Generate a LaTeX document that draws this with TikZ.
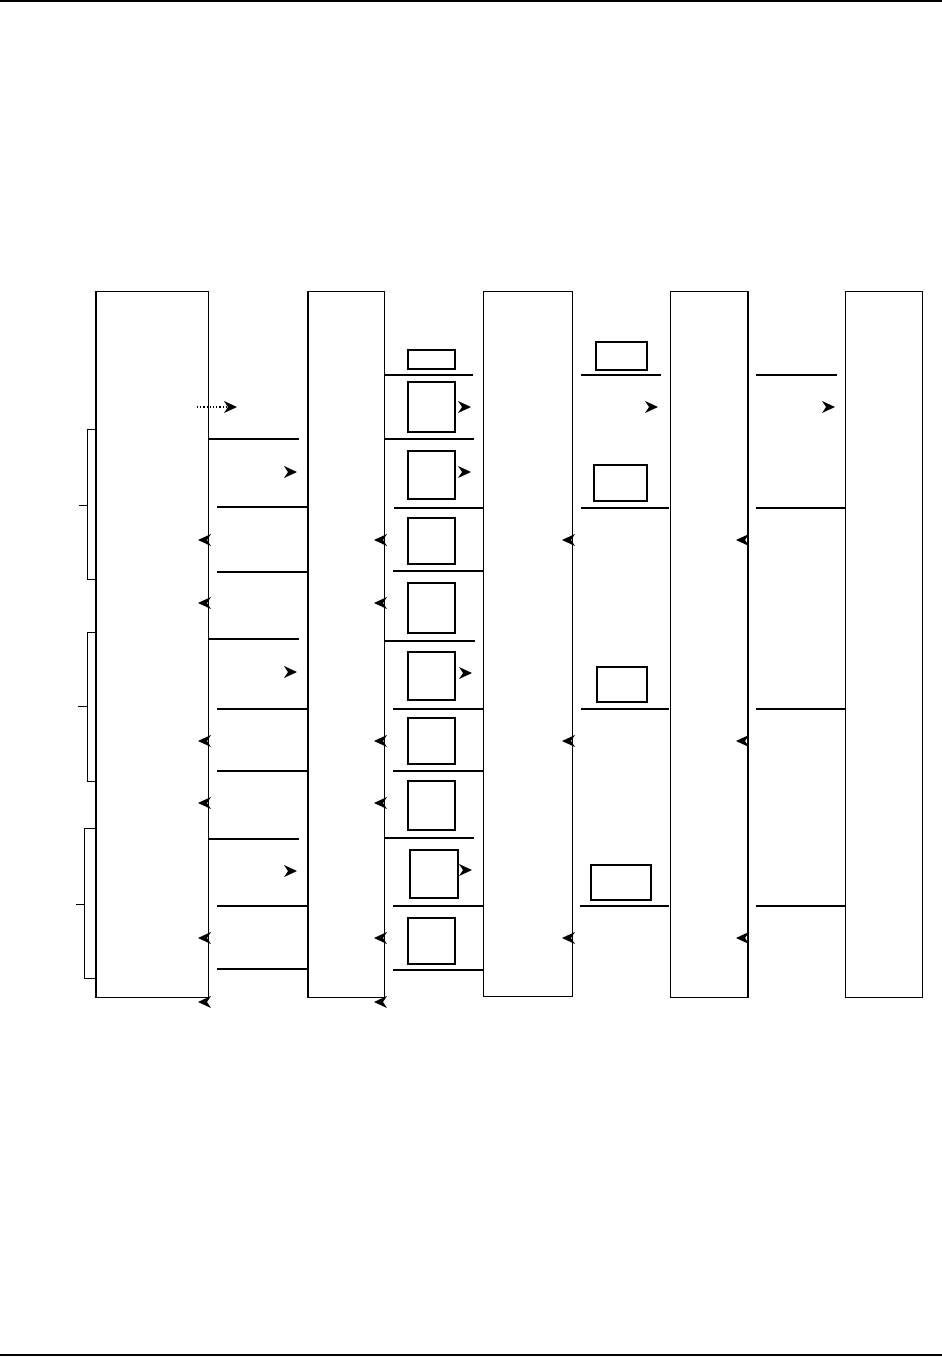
\documentclass[tikz,border=0pt]{standalone}
\begin{document}
\begin{tikzpicture}[x=1pt,y=-1pt,
  life/.style={draw,line width=1.2pt,inner sep=0pt,anchor=north west},
  msg/.style={line width=1.3pt},
  thickedge/.style={line width=2pt},
  actbar/.style={draw,line width=1pt},
  lbox/.style={draw,line width=1.1pt},
  pics/headR/.style={code={\fill (0,0) -- (-13,-6) -- (-9,0) -- (-13,6) -- cycle;}},
  pics/headL/.style={code={\fill (0,0) -- (13,-6) -- (9,0) -- (13,6) -- cycle;}}]
\useasboundingbox (0,0) rectangle (942,1357);
% page rules
\draw[thickedge] (0,1) -- (942,1);
\draw[thickedge] (0,1355) -- (942,1355);
% lifeline boxes
\node[life,minimum width=112pt,minimum height=706pt] (A) at (96,291) {};
\node[life,minimum width=76pt,minimum height=706pt] (B) at (308,291) {};
\node[life,minimum width=89pt,minimum height=705pt] (C) at (483,291) {};
\node[life,minimum width=77pt,minimum height=706pt] (D) at (670,291) {};
\node[life,minimum width=77pt,minimum height=706pt] (E) at (845,291) {};
\draw[thickedge] (A.north west) -- (A.south west);
\draw[thickedge] (B.north west) -- (B.south west);
\draw[thickedge] (D.north east) -- (D.south east);
% activation bars left of A
\draw[actbar] (87,429) rectangle (96,579);
\draw[actbar] (87,632) rectangle (96,781);
\draw[actbar] (84,828) rectangle (96,978);
\draw[actbar] (79,505) -- (87,505);
\draw[actbar] (78,706) -- (87,706);
\draw[actbar] (76,904) -- (84,904);
% A - B messages
\draw[dotted,line width=1.2pt] (197,407) -- (227,407);
\pic at (237,407) {headR};
\draw[msg] (208,439) -- (299,439);
\pic at (297,472) {headR};
\draw[msg] (217,507) -- (308,507);
\pic at (198,540) {headL};
\draw[msg] (217,572) -- (308,572);
\pic at (198,603) {headL};
\draw[msg] (208,639) -- (299,639);
\pic at (297,672) {headR};
\draw[msg] (217,709) -- (308,709);
\pic at (198,741) {headL};
\draw[msg] (217,771) -- (308,771);
\pic at (198,803) {headL};
\draw[msg] (208,839) -- (299,839);
\pic at (297,871) {headR};
\draw[msg] (217,906) -- (308,906);
\pic at (198,938) {headL};
\draw[msg] (217,969) -- (308,969);
\pic at (198,1002) {headL};
% heads at B right edge
\pic at (374,540) {headL};
\pic at (374,603) {headL};
\pic at (374,741) {headL};
\pic at (374,803) {headL};
\pic at (374,938) {headL};
\pic at (374,1002) {headL};
% B - C
\draw[lbox] (408,350) rectangle (455,369);
\draw[msg] (385,375) -- (473,375);
\draw[lbox] (408,382) rectangle (455,432);
\pic at (471,407) {headR};
\draw[msg] (385,439) -- (474,439);
\draw[lbox] (408,451) rectangle (455,499);
\pic at (471,472) {headR};
\draw[msg] (394,508) -- (483,508);
\draw[lbox] (408,518) rectangle (455,564);
\draw[msg] (393,571) -- (483,571);
\draw[lbox] (408,583) rectangle (455,633);
\draw[msg] (385,641) -- (475,641);
\draw[lbox] (408,652) rectangle (455,700);
\pic at (472,673) {headR};
\draw[msg] (393,709) -- (483,709);
\draw[lbox,line width=1.6pt] (408,718) rectangle (455,764);
\draw[msg] (393,771) -- (483,771);
\draw[lbox] (408,781) rectangle (455,830);
\draw[msg,line width=2pt] (385,838) -- (474,838);
\draw[lbox] (410,850) rectangle (458,898);
\pic at (472,870) {headR};
\draw[msg] (393,906) -- (483,906);
\draw[lbox] (408,918) rectangle (455,964);
\draw[msg,line width=2pt] (393,970) -- (483,970);
% C - D
\draw[lbox] (596,342) rectangle (647,370);
\draw[msg] (581,375) -- (661,375);
\pic at (658,407) {headR};
\draw[lbox] (594,465) rectangle (647,501);
\draw[thickedge] (594,465) -- (594,501);
\draw[msg] (581,508) -- (669,508);
\pic at (562,540) {headL};
\pic at (562,741) {headL};
\draw[lbox] (597,667) rectangle (647,702);
\draw[msg] (581,709) -- (669,709);
\draw[lbox] (591,865) rectangle (651,900);
\draw[msg] (580,906) -- (669,906);
\pic at (562,938) {headL};
% D - E
\draw[msg] (756,375) -- (837,375);
\pic at (835,407) {headR};
\draw[msg] (756,508) -- (845,508);
\pic at (736,540) {headL};
\draw[msg] (756,709) -- (845,709);
\pic at (736,741) {headL};
\draw[msg] (756,906) -- (845,906);
\pic at (736,938) {headL};
\end{tikzpicture}
\end{document}
